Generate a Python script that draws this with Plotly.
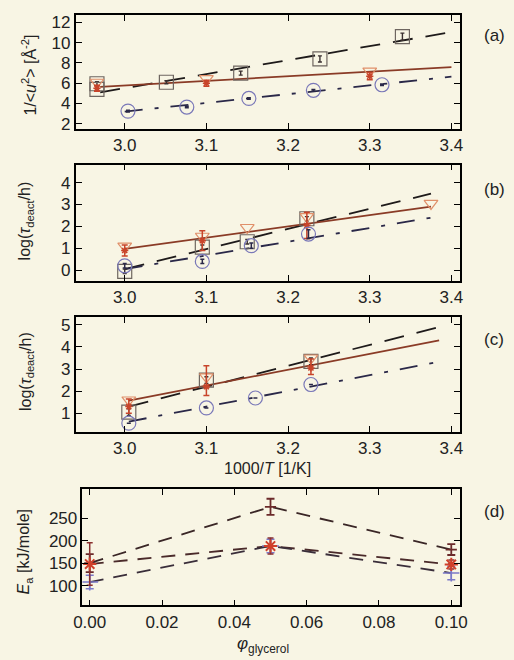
import plotly.graph_objects as go

# ---------------- data ----------------
# panel (a): 1/<u^2> vs 1000/T
a_sq_x = [2.966, 2.966, 3.051, 3.142, 3.239, 3.340]
a_sq_y = [5.4, 5.95, 6.1, 7.0, 8.4, 10.6]
a_sq_err = [0.2, 0.2, 0.15, 0.2, 0.3, 0.35]
a_tri_x = [2.966, 3.100, 3.300]
a_tri_y = [6.1, 6.45, 7.2]
a_red_x = [2.966, 3.100, 3.300]
a_red_y = [5.5, 6.0, 6.7]
a_red_err = [0.3, 0.3, 0.35]
a_circ_x = [3.004, 3.076, 3.152, 3.231, 3.315]
a_circ_y = [3.25, 3.65, 4.5, 5.3, 5.85]
a_fit_x = [2.97, 3.40]
a_fit_sq = [5.1, 11.05]
a_fit_tri = [5.65, 7.6]
a_fitc_x = [3.00, 3.40]
a_fit_circ = [3.2, 6.65]

# panel (b): log(tau_deact/h)
b_tri_x = [3.000, 3.095, 3.150, 3.223, 3.375]
b_tri_y = [1.1, 1.55, 1.95, 2.45, 3.05]
b_red_x = [3.000, 3.095, 3.223]
b_red_y = [0.9, 1.35, 2.05]
b_red_err = [0.25, 0.45, 0.6]
b_sq_x = [3.000, 3.095, 3.150, 3.223]
b_sq_y = [-0.05, 1.05, 1.3, 2.35]
b_circ_x = [3.000, 3.095, 3.155, 3.225]
b_circ_y = [0.2, 0.4, 1.12, 1.65]
b_circ_err = [0.1, 0.1, 0.12, 0.2]
b_fit_x = [3.00, 3.375]
b_fit_tri = [0.97, 2.9]
b_fit_sq = [0.05, 3.5]
b_fit_circ = [0.05, 2.4]

# panel (c): log(tau_deact/h)
c_sq_x = [3.005, 3.100, 3.228]
c_sq_y = [1.05, 2.5, 3.35]
c_tri_x = [3.005, 3.100, 3.228]
c_tri_y = [1.6, 2.65, 3.5]
c_red_x = [3.005, 3.100, 3.228]
c_red_y = [1.3, 2.2, 3.05]
c_red_err_plus = [0.35, 0.95, 0.4]
c_red_err_minus = [0.3, 0.4, 0.3]
c_circ_x = [3.005, 3.100, 3.160, 3.228]
c_circ_y = [0.55, 1.24, 1.69, 2.3]
c_fit_x = [3.005, 3.385]
c_fit_tri = [1.57, 4.3]
c_fit_sq = [1.3, 4.9]
c_fit_circ = [0.62, 3.33]

# panel (d): activation energy vs glycerol fraction
phi = [0.0, 0.05, 0.10]
d_top = [150, 275, 180]
d_top_err = [20, 18, 12]
d_mid = [148, 188, 147]
d_mid_err = [47, 18, 10]
d_bot = [108, 188, 128]
d_bot_err = [15, 15, 15]

x_ticks = [3.0, 3.1, 3.2, 3.3, 3.4]
x_ticklabels = ["3.0", "3.1", "3.2", "3.3", "3.4"]
d_ticks = [0.0, 0.02, 0.04, 0.06, 0.08, 0.10]
d_ticklabels = ["0.00", "0.02", "0.04", "0.06", "0.08", "0.10"]

# ---------------- styles ----------------
BG = "#f8f5e4"
C_SQ = "#6e6660"
C_TRI = "#e0906a"
C_RED = "#c8442a"
C_CIRC = "#7a78b8"
C_SOLID = "#8a3b26"
C_DASH = "#1e1a1a"
C_DASHDOT = "#2a2848"
DASH = "20px,13px"
DASHDOT = "18px,12px,4px,12px"
FONT = "Liberation Sans, Arial, sans-serif"

W, H = 514, 660

fig = go.Figure()


def add_panel(ax, sq, tri, red, circ, fits):
    xa, ya = ("x" + ax, "y" + ax)
    fx, fsq, ftri, fcx, fcirc = fits
    fig.add_trace(go.Scatter(x=fx, y=fsq, mode="lines", xaxis=xa, yaxis=ya,
                             line=dict(color=C_DASH, width=1.8, dash=DASH), showlegend=False))
    fig.add_trace(go.Scatter(x=fcx, y=fcirc, mode="lines", xaxis=xa, yaxis=ya,
                             line=dict(color=C_DASHDOT, width=1.8, dash=DASHDOT), showlegend=False))
    fig.add_trace(go.Scatter(x=fx, y=ftri, mode="lines", xaxis=xa, yaxis=ya,
                             line=dict(color=C_SOLID, width=1.8), showlegend=False))
    sx, sy, se = sq
    fig.add_trace(go.Scatter(x=sx, y=sy, mode="markers", xaxis=xa, yaxis=ya,
                             marker=dict(symbol="square-open", size=14, color=C_SQ, line=dict(width=1.2)),
                             error_y=dict(type="data", array=se, color="#3a3030", thickness=1.4, width=2),
                             showlegend=False))
    tx, ty = tri
    fig.add_trace(go.Scatter(x=tx, y=ty, mode="markers", xaxis=xa, yaxis=ya,
                             marker=dict(symbol="triangle-down-open", size=12, color=C_TRI, line=dict(width=1.2)),
                             showlegend=False))
    rx, ry, rep, rem = red
    fig.add_trace(go.Scatter(x=rx, y=ry, mode="markers", xaxis=xa, yaxis=ya,
                             marker=dict(symbol="asterisk-open", size=6, color=C_RED, line=dict(width=1.5, color=C_RED)),
                             error_y=dict(type="data", array=rep, arrayminus=rem, color=C_RED, thickness=1.5, width=3),
                             showlegend=False))
    cx, cy, ce = circ
    fig.add_trace(go.Scatter(x=cx, y=cy, mode="markers", xaxis=xa, yaxis=ya,
                             marker=dict(symbol="circle-open", size=14, color=C_CIRC, line=dict(width=1.2)),
                             error_y=dict(type="data", array=ce, color="#2a2848", thickness=1.5, width=2),
                             showlegend=False))


add_panel("", (a_sq_x, a_sq_y, a_sq_err), (a_tri_x, a_tri_y),
          (a_red_x, a_red_y, a_red_err, a_red_err),
          (a_circ_x, a_circ_y, [0.08] * len(a_circ_x)),
          (a_fit_x, a_fit_sq, a_fit_tri, a_fitc_x, a_fit_circ))
add_panel("2", (b_sq_x, b_sq_y, [0.1] * len(b_sq_x)), (b_tri_x, b_tri_y),
          (b_red_x, b_red_y, b_red_err, b_red_err),
          (b_circ_x, b_circ_y, b_circ_err),
          (b_fit_x, b_fit_sq, b_fit_tri, b_fit_x, b_fit_circ))
add_panel("3", (c_sq_x, c_sq_y, [0.15] * len(c_sq_x)), (c_tri_x, c_tri_y),
          (c_red_x, c_red_y, c_red_err_plus, c_red_err_minus),
          (c_circ_x, c_circ_y, [0.0] * len(c_circ_x)),
          (c_fit_x, c_fit_sq, c_fit_tri, c_fit_x, c_fit_circ))

# panel (d)
for ys, col in [(d_top, "#3a2626"), (d_mid, "#4a2a2a"), (d_bot, "#3a2e3a")]:
    fig.add_trace(go.Scatter(x=phi, y=ys, mode="lines", xaxis="x4", yaxis="y4",
                             line=dict(color=col, width=1.8, dash="14px,10px"), showlegend=False))
fig.add_trace(go.Scatter(x=phi, y=d_top, mode="markers", xaxis="x4", yaxis="y4",
                         marker=dict(symbol="line-ew-open", size=8, color="#6b2a2a", line=dict(width=1.8, color="#6b2a2a")),
                         error_y=dict(type="data", array=d_top_err, color="#6b2a2a", thickness=1.8, width=4),
                         showlegend=False))
fig.add_trace(go.Scatter(x=phi, y=d_bot, mode="markers", xaxis="x4", yaxis="y4",
                         marker=dict(symbol="cross-thin-open", size=12, color="#7a78c8", line=dict(width=1.6, color="#7a78c8")),
                         error_y=dict(type="data", array=d_bot_err, color="#7a78c8", thickness=1.5, width=4),
                         showlegend=False))
fig.add_trace(go.Scatter(x=phi, y=d_mid, mode="markers", xaxis="x4", yaxis="y4",
                         marker=dict(symbol="asterisk-open", size=11, color="#d0402a", line=dict(width=2, color="#d0402a")),
                         error_y=dict(type="data", array=d_mid_err, color="#8a3030", thickness=1.5, width=3),
                         showlegend=False))


def px_x(p):
    return p / W


def px_y(p):
    return 1 - p / H


axis_common = dict(showline=True, linecolor="black", linewidth=1.6, mirror="ticks",
                   ticks="inside", ticklen=6, tickwidth=1.4, tickcolor="black",
                   showgrid=False, zeroline=False,
                   tickfont=dict(family=FONT, size=17, color="#222"))

xdom = [px_x(69), px_x(466)]
fig.update_layout(
    width=W, height=H,
    margin=dict(l=0, r=0, t=0, b=0),
    paper_bgcolor=BG, plot_bgcolor=BG,
    font=dict(family=FONT, size=17, color="#222"),
    xaxis=dict(domain=xdom, range=[2.94, 3.41], tickvals=x_ticks, ticktext=x_ticklabels, anchor="y", **axis_common),
    yaxis=dict(domain=[px_y(129), px_y(14)], range=[1.5, 12.75], tickvals=[2, 4, 6, 8, 10, 12], anchor="x", **axis_common),
    xaxis2=dict(domain=xdom, range=[2.94, 3.41], tickvals=x_ticks, ticktext=x_ticklabels, anchor="y2", **axis_common),
    yaxis2=dict(domain=[px_y(282.7), px_y(165)], range=[-0.5, 4.83], tickvals=[0, 1, 2, 3, 4], anchor="x2", **axis_common),
    xaxis3=dict(domain=xdom, range=[2.94, 3.41], tickvals=x_ticks, ticktext=x_ticklabels, anchor="y3", **axis_common),
    yaxis3=dict(domain=[px_y(435), px_y(319)], range=[0.15, 5.35], tickvals=[1, 2, 3, 4, 5], anchor="x3", **axis_common),
    xaxis4=dict(domain=[px_x(76), px_x(466)], range=[-0.002, 0.1023], tickvals=d_ticks, ticktext=d_ticklabels,
                anchor="y4", **axis_common),
    yaxis4=dict(domain=[px_y(610), px_y(492.3)], range=[56, 315], tickvals=[100, 150, 200, 250], anchor="x4", **axis_common),
)

annots = [
    ("(a)", 502, 35, 0, 17),
    ("(b)", 502, 190, 0, 17),
    ("(c)", 502, 342, 0, 17),
    ("(d)", 502, 515, 0, 17),
    ("1/&lt;<i>u</i><sup>2</sup>&gt; [Å<sup>-2</sup>]", 21, 75, -90, 16),
    ("log(<i>τ</i><sub>deact</sub>/h)", 18, 222, -90, 16),
    ("log(<i>τ</i><sub>deact</sub>/h)", 18, 374, -90, 16),
    ("<i>E</i><sub>a</sub> [kJ/mole]", 17, 556, -90, 16),
    ("1000/<i>T</i> [1/K]", 267, 472, 0, 16),
    ("<i>φ</i><sub>glycerol</sub>", 263, 650, 0, 17),
]
for txt, x, y, ang, sz in annots:
    fig.add_annotation(text=txt, x=px_x(x), y=px_y(y), xref="paper", yref="paper",
                       xanchor="center", yanchor="middle", showarrow=False, textangle=ang,
                       font=dict(family=FONT, size=sz, color="#222"))

fig.write_html("out.html")
